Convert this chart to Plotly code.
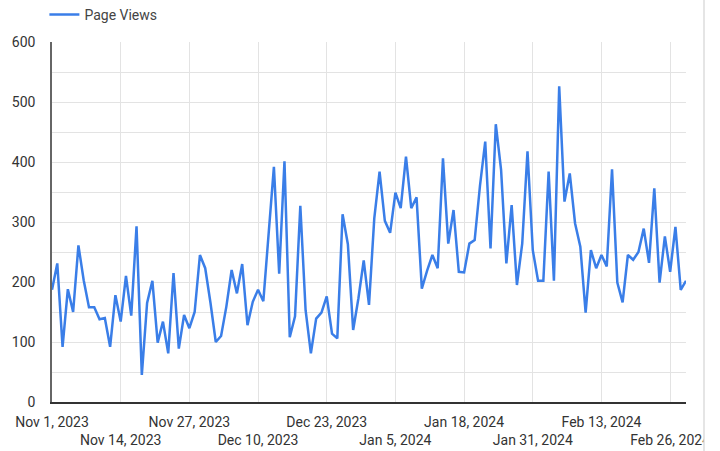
import plotly.graph_objects as go
import pandas as pd

start_date = "2023-11-01"
end_date = "2024-02-29"
page_views = [187, 231, 92, 188, 150, 261, 203, 158, 158, 138,
              140, 92, 178, 134, 210, 144, 293, 45, 165, 202,
              99, 134, 81, 215, 89, 145, 123, 150, 245, 223,
              165, 100, 110, 159, 220, 181, 230, 128, 167, 187,
              168, 281, 392, 214, 401, 108, 143, 327, 153, 81,
              139, 149, 176, 114, 106, 313, 263, 120, 173, 236,
              162, 306, 384, 302, 282, 349, 323, 409, 323, 341,
              189, 219, 245, 223, 406, 264, 320, 217, 216, 264,
              270, 360, 434, 256, 463, 387, 231, 328, 195, 264,
              418, 253, 202, 202, 384, 202, 526, 334, 381, 298,
              259, 149, 253, 223, 245, 226, 388, 199, 166, 245,
              237, 250, 289, 232, 356, 199, 276, 217, 292, 187, 202]
tick_dates = ["2023-11-01", "2023-11-14", "2023-11-27", "2023-12-10", "2023-12-23",
              "2024-01-05", "2024-01-18", "2024-01-31", "2024-02-13", "2024-02-26"]
tick_labels = ["Nov 1, 2023", "Nov 14, 2023", "Nov 27, 2023", "Dec 10, 2023", "Dec 23, 2023",
               "Jan 5, 2024", "Jan 18, 2024", "Jan 31, 2024", "Feb 13, 2024", "Feb 26, 2024"]

dates = pd.date_range(start_date, end_date, freq="D")
tick_text = [t if i % 2 == 0 else "<br>" + t for i, t in enumerate(tick_labels)]

fig = go.Figure()
fig.add_trace(go.Scatter(
    x=dates, y=page_views, mode="lines", name="Page Views",
    line=dict(color="#3a7ee8", width=2.5),
))

fig.update_layout(
    width=720, height=451,
    margin=dict(l=52, r=34, t=42, b=49, autoexpand=False),
    paper_bgcolor="white", plot_bgcolor="white",
    font=dict(family="Roboto", size=14, color="#333333"),
    showlegend=True,
    legend=dict(x=-0.012, xanchor="left", y=1.075, yanchor="middle",
                orientation="h", font=dict(size=14, color="#444444"),
                bgcolor="rgba(0,0,0,0)"),
    xaxis=dict(
        range=[dates[0], dates[-1]],
        tickvals=pd.to_datetime(tick_dates), ticktext=tick_text,
        tickangle=0, automargin=False, ticklabelstandoff=6,
        showgrid=True, gridcolor="#e3e3e3", gridwidth=1,
        showline=True, linecolor="#333333", linewidth=1.5,
        ticks="", tickfont=dict(size=14, color="#333333"),
        zeroline=False,
    ),
    yaxis=dict(
        range=[0, 600], dtick=100, tick0=0, automargin=False,
        showgrid=True, gridcolor="#e3e3e3", gridwidth=1,
        minor=dict(dtick=50, showgrid=True, gridcolor="#e3e3e3", gridwidth=1),
        showline=True, linecolor="#666666", linewidth=1.5,
        ticks="", ticklabelstandoff=12,
        tickfont=dict(size=14, color="#333333"),
        zeroline=False,
    ),
    shapes=[
        dict(type="rect", xref="paper", yref="paper", x0=(704 - 52) / 634, x1=(720 - 52) / 634,
             y0=-49 / 360, y1=(451 - 49) / 360 + 0.2, fillcolor="white", line=dict(width=0),
             layer="above"),
        dict(type="line", xref="paper", yref="paper", x0=(704 - 52) / 634, x1=(704 - 52) / 634,
             y0=-49 / 360, y1=(451 - 49) / 360 + 0.2, line=dict(color="#dddddd", width=1.5),
             layer="above"),
    ],
)

fig.write_html("out.html")
